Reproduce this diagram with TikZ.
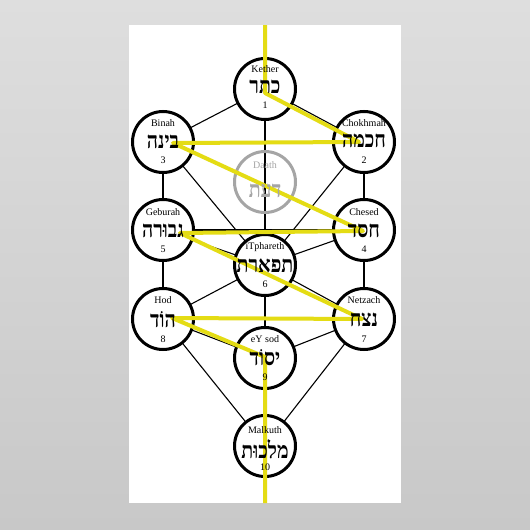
\documentclass[tikz,border=0pt]{standalone}
\usepackage{fontspec}
\setmainfont{Liberation Serif}
\newfontfamily\heb[Script=Hebrew,FakeStretch=0.85]{Liberation Serif}
\TeXXeTstate=1
\definecolor{flash}{RGB}{228,220,20}
\definecolor{bgtop}{RGB}{222,222,222}
\definecolor{bgbot}{RGB}{200,200,200}
\definecolor{daathgray}{RGB}{165,165,165}
\begin{document}
\begin{tikzpicture}[x=1pt,y=-1pt,
  sef/.style={circle,draw=black,line width=3pt,fill=white,minimum size=61pt,inner sep=0pt},
  daathc/.style={circle,draw=daathgray,line width=3pt,minimum size=61pt,inner sep=0pt},
  conn/.style={black,line width=1.1pt},
  flashline/.style={flash,line width=4pt,line join=round},
  lbl/.style={font=\fontsize{10}{11}\selectfont,inner sep=0pt},
  hebt/.style={font=\heb\bfseries\fontsize{23}{23}\selectfont,inner sep=0pt},
  num/.style={font=\fontsize{10}{11}\selectfont,inner sep=0pt}]
\useasboundingbox (0,0) rectangle (530,530);
\shade[top color=bgtop,bottom color=bgbot] (0,0) rectangle (530,530);
\fill[white] (129,25) rectangle (401,503);
% circle positions
\coordinate (kc) at (265,89);
\coordinate (chc) at (364,142);
\coordinate (bic) at (163,142);
\coordinate (dac) at (265,182);
\coordinate (hec) at (364,230);
\coordinate (gec) at (163,230);
\coordinate (tic) at (265,265);
\coordinate (nec) at (364,319);
\coordinate (hoc) at (163,319);
\coordinate (yec) at (265,358);
\coordinate (mac) at (265,446);
% black paths
\draw[conn] (kc) -- (chc);
\draw[conn] (kc) -- (bic);
\draw[conn] (kc) -- (tic);
\draw[conn] (bic) -- (chc);
\draw[conn] (bic) -- (gec);
\draw[conn] (chc) -- (hec);
\draw[conn] (bic) -- (tic);
\draw[conn] (chc) -- (tic);
\draw[conn] (gec) -- (hec);
\draw[conn] (gec) -- (tic);
\draw[conn] (hec) -- (tic);
\draw[conn] (gec) -- (hoc);
\draw[conn] (hec) -- (nec);
\draw[conn] (tic) -- (hoc);
\draw[conn] (tic) -- (nec);
\draw[conn] (tic) -- (yec);
\draw[conn] (hoc) -- (nec);
\draw[conn] (hoc) -- (yec);
\draw[conn] (nec) -- (yec);
\draw[conn] (hoc) -- (mac);
\draw[conn] (nec) -- (mac);
\draw[conn] (yec) -- (mac);
% circles
\node[sef] (k) at (kc) {};
\node[sef] (ch) at (chc) {};
\node[sef] (bi) at (bic) {};
\node[daathc] (da) at (dac) {};
\node[sef] (he) at (hec) {};
\node[sef] (ge) at (gec) {};
\node[sef] (ti) at (tic) {};
\node[sef] (ne) at (nec) {};
\node[sef] (ho) at (hoc) {};
\node[sef] (ye) at (yec) {};
\node[sef] (ma) at (mac) {};
% lightning flash
\coordinate (f0) at (265,25);
\coordinate (f1) at (265,93);
\coordinate (f2) at (359,142);
\coordinate (f3) at (173,143);
\coordinate (f4) at (363,231);
\coordinate (f5) at (180,233);
\coordinate (f6) at (362,319);
\coordinate (f7) at (172,318);
\coordinate (f8) at (265,357);
\coordinate (f9) at (265,503);
\draw[flashline] (f0) -- (f1) -- (f2) -- (f3) -- (f4) -- (f5) -- (f6) -- (f7) -- (f8) -- (f9);
% texts
\node[lbl] (k-l) at ([yshift=20pt]k.center) {Kether};
\node[hebt] (k-h) at ([yshift=2pt]k.center) {\beginR כתר\endR};
\node[num] (k-n) at ([yshift=-16pt]k.center) {1};
\node[lbl] (ch-l) at ([yshift=19pt]ch.center) {Chokhmah};
\node[hebt] (ch-h) at ([yshift=1pt]ch.center) {\beginR חכמה\endR};
\node[num] (ch-n) at ([yshift=-18pt]ch.center) {2};
\node[lbl] (bi-l) at ([yshift=19pt]bi.center) {Binah};
\node[hebt] (bi-h) at ([yshift=0pt]bi.center) {\beginR בינה\endR};
\node[num] (bi-n) at ([yshift=-18pt]bi.center) {3};
\node[lbl,text=daathgray] (da-l) at ([yshift=17pt]da.center) {Daath};
\node[hebt,text=daathgray] (da-h) at ([yshift=-9pt]da.center) {\beginR דעת\endR};
\node[lbl] (he-l) at ([yshift=18pt]he.center) {Chesed};
\node[hebt] (he-h) at ([yshift=-1pt]he.center) {\beginR חסד\endR};
\node[num] (he-n) at ([yshift=-19pt]he.center) {4};
\node[lbl] (ge-l) at ([yshift=18pt]ge.center) {Geburah};
\node[hebt] (ge-h) at ([yshift=-1pt]ge.center) {\beginR גבוּרה\endR};
\node[num] (ge-n) at ([yshift=-19pt]ge.center) {5};
\node[lbl] (ti-l) at ([yshift=18pt]ti.center) {iTphareth};
\node[hebt] (ti-h) at ([yshift=-1pt]ti.center) {\beginR תפארת\endR};
\node[num] (ti-n) at ([yshift=-19pt]ti.center) {6};
\node[lbl] (ne-l) at ([yshift=19pt]ne.center) {Netzach};
\node[hebt] (ne-h) at ([yshift=-1pt]ne.center) {\beginR נצח\endR};
\node[num] (ne-n) at ([yshift=-20pt]ne.center) {7};
\node[lbl] (ho-l) at ([yshift=19pt]ho.center) {Hod};
\node[hebt] (ho-h) at ([yshift=-1pt]ho.center) {\beginR הוֹד\endR};
\node[num] (ho-n) at ([yshift=-20pt]ho.center) {8};
\node[lbl] (ye-l) at ([yshift=19pt]ye.center) {eY sod};
\node[hebt] (ye-h) at ([yshift=0pt]ye.center) {\beginR יסוֹד\endR};
\node[num] (ye-n) at ([yshift=-19pt]ye.center) {9};
\node[lbl] (ma-l) at ([yshift=16pt]ma.center) {Malkuth};
\node[hebt] (ma-h) at ([yshift=-3pt]ma.center) {\beginR מלכוּת\endR};
\node[num] (ma-n) at ([yshift=-21pt]ma.center) {10};
\end{tikzpicture}
\end{document}
